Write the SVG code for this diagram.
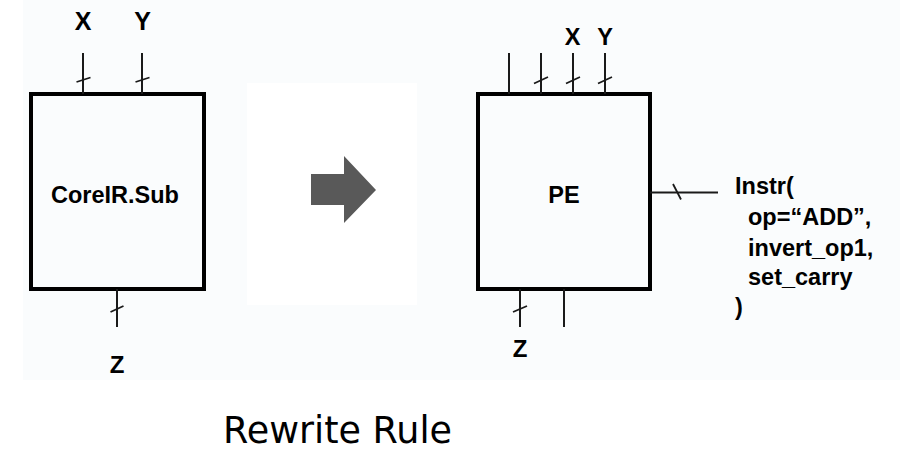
<svg xmlns="http://www.w3.org/2000/svg" width="900" height="452" viewBox="0 0 900 452">
<style>
.box{fill:none;stroke:#000;stroke-width:4}
.w{stroke:#1a1a1a;stroke-width:2;fill:none}
.s{stroke:#1a1a1a;stroke-width:1.8;fill:none}
.lbl{font-family:"Liberation Sans",Arial,sans-serif;font-weight:bold;fill:#000}
</style>
<rect x="0" y="0" width="900" height="452" fill="#ffffff"/>
<rect x="23" y="0" width="877" height="380" fill="#fafcfd"/>
<rect x="247" y="83" width="170" height="222" fill="#ffffff"/>
<g id="core-sub">
<rect class="box" x="31" y="94" width="173" height="195"/>
<text class="lbl" x="115" y="203" font-size="23.5" text-anchor="middle">CoreIR.Sub</text>
</g>
<g id="pe">
<rect class="box" x="478" y="94" width="172" height="195"/>
<text class="lbl" x="564" y="203" font-size="23.5" text-anchor="middle">PE</text>
</g>
<g id="rewrite-arrow">
<polygon points="311,174 344,174 344,156 376,190 344,223 344,205 311,205" fill="#595959"/>
</g>
<g id="connectors">
<path class="w" d="M83,53V94M142,53V94M117,289V327"/>
<path class="s" d="M76.5,82L90.5,77.5M135.5,82L149.5,77.5M110.5,312L123.5,306"/>
<path class="w" d="M509,53V94M541,53V94M573,53V94M605,53V94M520,289V327M564,289V327M650,192.5H718"/>
<path class="s" d="M534,83.5L548,77M566,83.5L580,77M598,83.5L612,77M513,312L527,306M673,184L681,199.5"/>
</g>
<g id="labels">
<text class="lbl" x="83" y="30" font-size="25" text-anchor="middle">X</text>
<text class="lbl" x="142.5" y="30" font-size="25" text-anchor="middle">Y</text>
<text class="lbl" x="117" y="373" font-size="24" text-anchor="middle">Z</text>
<text class="lbl" x="572.5" y="45" font-size="23.5" text-anchor="middle">X</text>
<text class="lbl" x="605" y="45" font-size="23.5" text-anchor="middle">Y</text>
<text class="lbl" x="520" y="357" font-size="24" text-anchor="middle">Z</text>
<text class="lbl" font-size="23.5">
<tspan x="735" y="194">Instr(</tspan>
<tspan x="748" y="225">op=“ADD”,</tspan>
<tspan x="748" y="256">invert_op1,</tspan>
<tspan x="748" y="285">set_carry</tspan>
<tspan x="735" y="315">)</tspan>
</text>
</g>
<text x="223" y="443" font-family="'DejaVu Sans',Verdana,sans-serif" font-size="36.5" fill="#000">Rewrite Rule</text>
</svg>
